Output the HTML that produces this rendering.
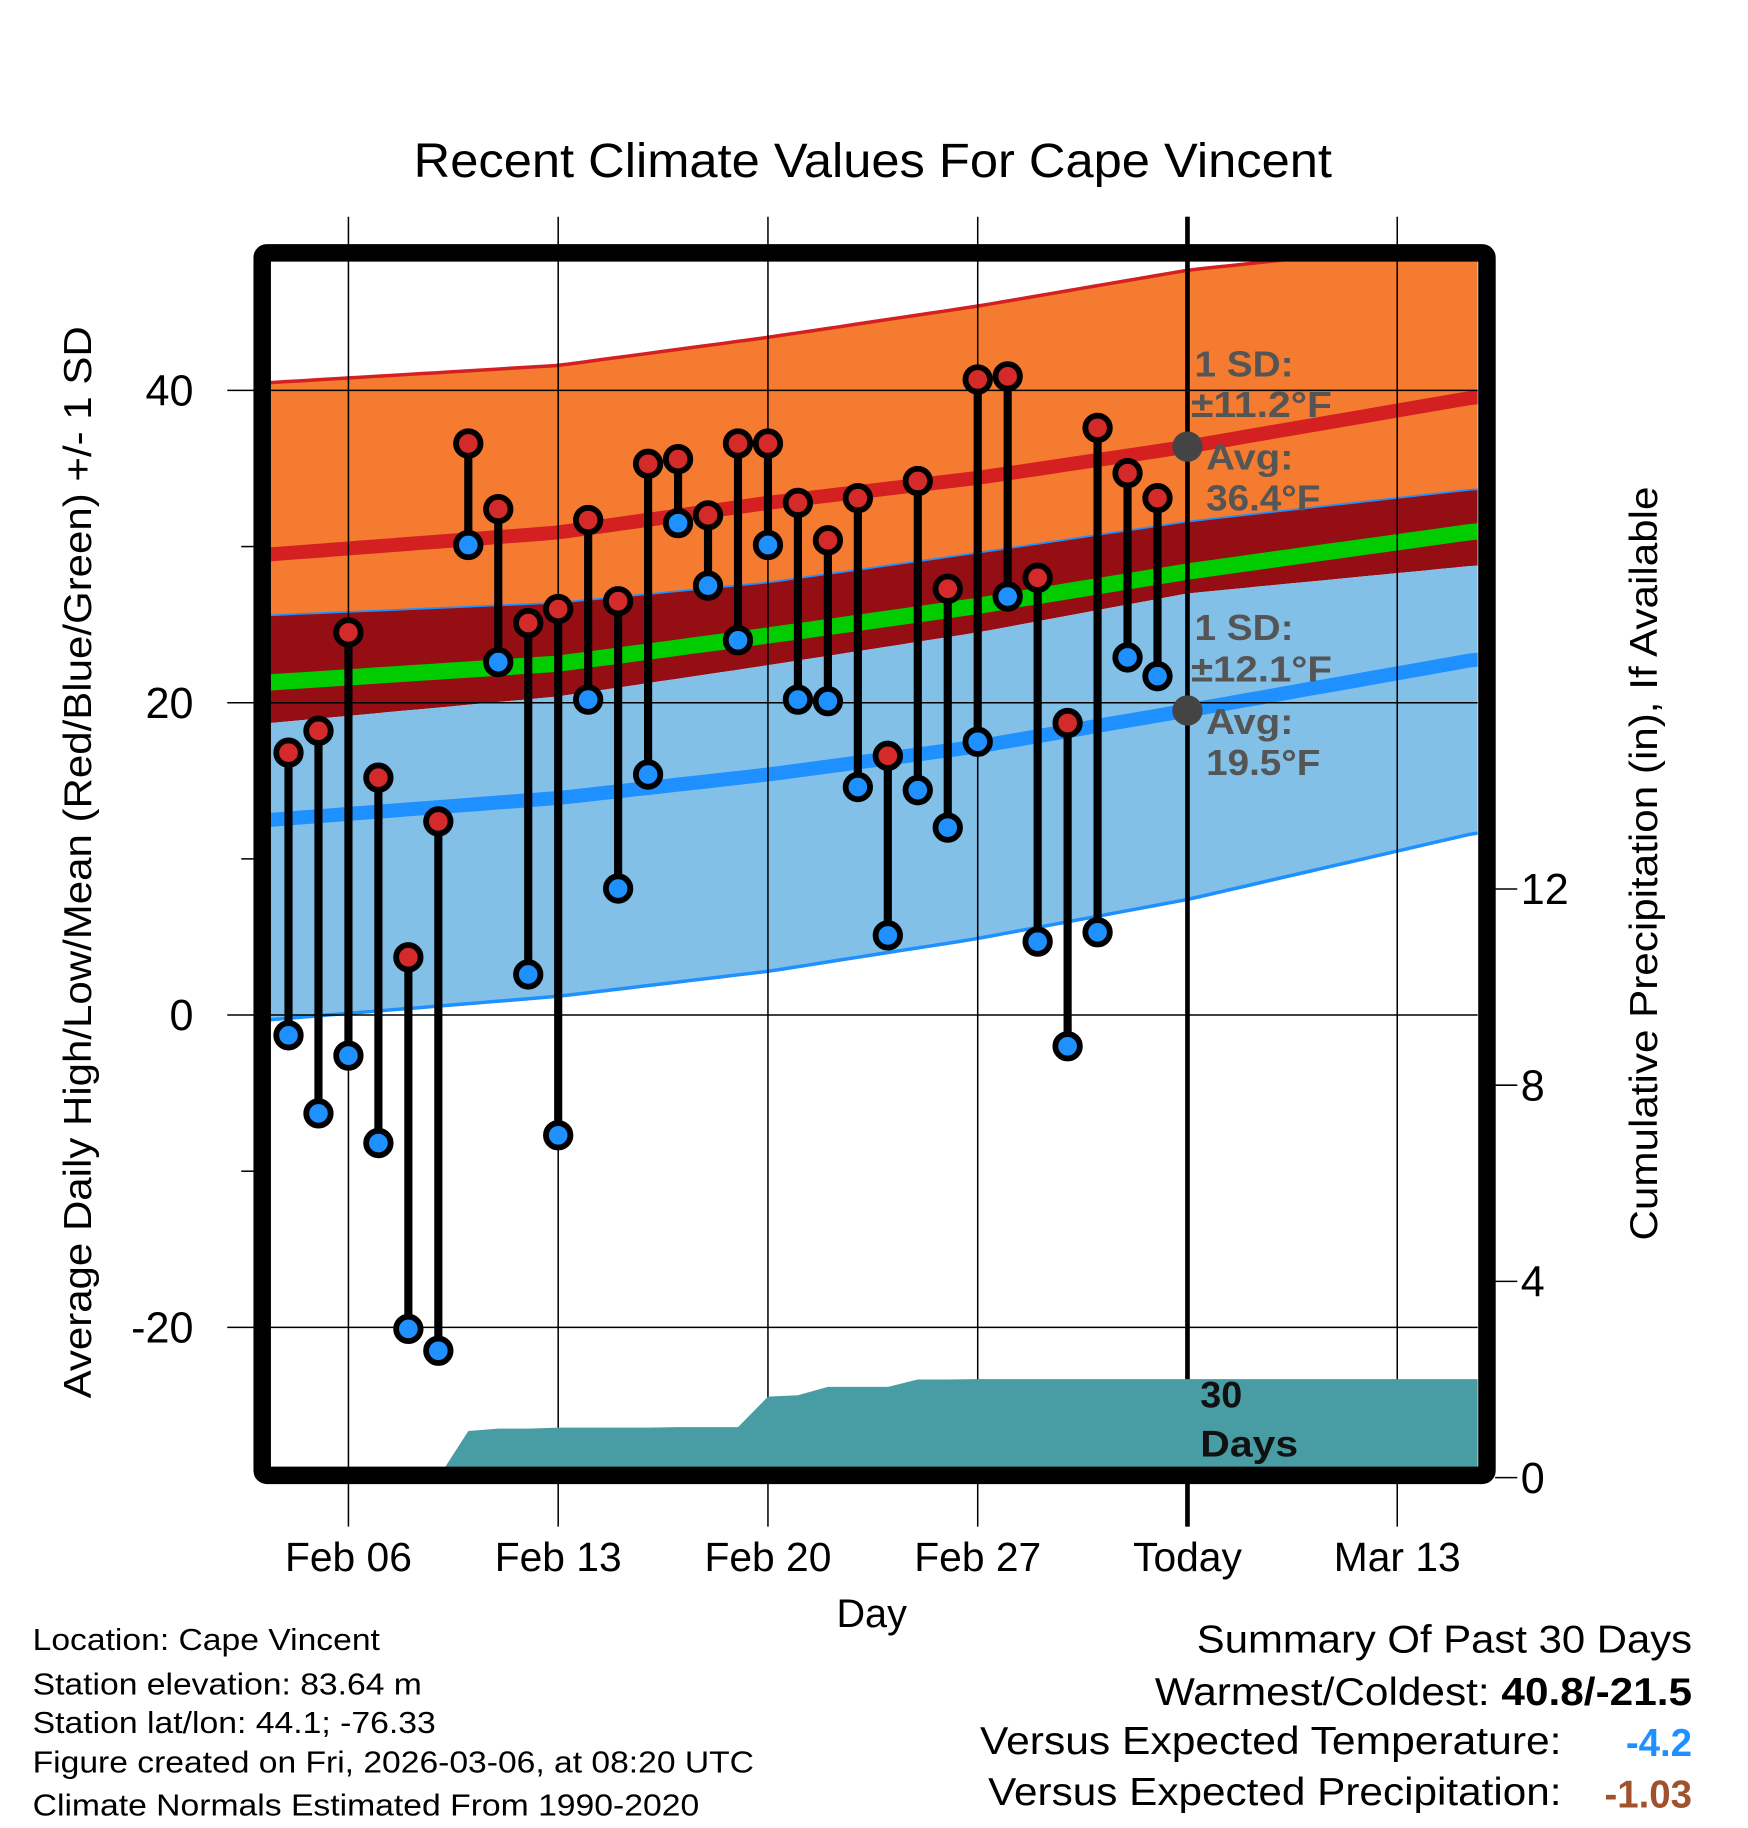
<!DOCTYPE html>
<html><head><meta charset="utf-8"><style>
html,body{margin:0;padding:0;background:#fff;}
svg{display:block;font-family:"Liberation Sans",Arial,sans-serif;}
</style></head><body>
<svg id="chart" width="1748" height="1828" viewBox="0 0 1500 1568.6" xmlns="http://www.w3.org/2000/svg">
<defs><clipPath id="plotclip"><rect x="232" y="224" width="1036" height="1035"/></clipPath></defs>
<rect x="0" y="0" width="1500" height="1570" fill="#fff"/>
<g id="bands" clip-path="url(#plotclip)"></g>
<g id="grid"></g>
<g id="precip" clip-path="url(#plotclip)"></g>
<g id="marks"></g>
<g id="annot"></g>
<rect x="225" y="217" width="1051" height="1049" fill="none" stroke="#000" stroke-width="15" rx="4"/>
<g id="axes"></g>
<text x="355" y="152" font-size="41" textLength="788" lengthAdjust="spacingAndGlyphs">Recent Climate Values For Cape Vincent</text>
<text transform="translate(78,740) rotate(-90)" font-size="33" text-anchor="middle" textLength="920" lengthAdjust="spacingAndGlyphs">Average Daily High/Low/Mean (Red/Blue/Green) +/- 1 SD</text>
<text transform="translate(1422,741) rotate(-90)" font-size="33" text-anchor="middle" textLength="647" lengthAdjust="spacingAndGlyphs">Cumulative Precipitation (in), If Available</text>
<text x="748" y="1396" font-size="34" text-anchor="middle">Day</text>
<g font-size="26">
<text x="28" y="1416" textLength="298" lengthAdjust="spacingAndGlyphs">Location: Cape Vincent</text>
<text x="28" y="1454" textLength="334" lengthAdjust="spacingAndGlyphs">Station elevation: 83.64 m</text>
<text x="28" y="1487" textLength="346" lengthAdjust="spacingAndGlyphs">Station lat/lon: 44.1; -76.33</text>
<text x="28" y="1521" textLength="619" lengthAdjust="spacingAndGlyphs">Figure created on Fri, 2026-03-06, at 08:20 UTC</text>
<text x="28" y="1558" textLength="572" lengthAdjust="spacingAndGlyphs">Climate Normals Estimated From 1990-2020</text>
</g>
<g font-size="33">
<text x="1027" y="1418" textLength="425" lengthAdjust="spacingAndGlyphs">Summary Of Past 30 Days</text>
<text x="991" y="1463" textLength="461" lengthAdjust="spacingAndGlyphs">Warmest/Coldest: <tspan font-weight="bold">40.8/-21.5</tspan></text>
<text x="841" y="1505" textLength="499" lengthAdjust="spacingAndGlyphs">Versus Expected Temperature:</text>
<text x="1452" y="1507" text-anchor="end" font-weight="bold" fill="#1e90ff">-4.2</text>
<text x="848" y="1549" textLength="492" lengthAdjust="spacingAndGlyphs">Versus Expected Precipitation:</text>
<text x="1452" y="1551" text-anchor="end" font-weight="bold" fill="#a0522d">-1.03</text>
</g>
</svg>
<script>
// ---- data ----
const highs=[16.8,18.2,24.5,15.2,3.7,12.4,36.6,32.4,25.1,26.0,31.7,26.5,35.3,35.6,32.0,36.6,36.6,32.8,30.4,33.1,16.6,34.2,27.3,40.7,40.9,28.0,18.7,37.6,34.7,33.1];
const lows=[-1.3,-6.3,-2.6,-8.2,-20.1,-21.5,30.1,22.6,2.6,-7.7,20.2,8.1,15.4,31.5,27.5,24.0,30.1,20.2,20.1,14.6,5.1,14.4,12.0,17.5,26.8,4.7,-2.0,5.3,22.9,21.7];
const precipCum=[0,0,0,0,0,0,0.95,1.0,1.0,1.02,1.02,1.02,1.02,1.03,1.03,1.03,1.65,1.68,1.85,1.85,1.85,2.0,2.0,2.01,2.01,2.01,2.01,2.01,2.01,2.01];
const firstDay=-2; // Feb 4 relative to Feb 6
const normDays=[-2.6,7,14,21,28,37.7];
const highUpper=[40.5,41.6,43.4,45.4,47.7,49.7];
const highAvg=[29.5,30.9,32.8,34.4,36.4,39.6];
const darkTop=[25.6,26.4,27.7,29.6,31.6,33.7];
const meanAvg=[21.3,22.5,24.3,26.2,28.4,31.0];
const darkBottom=[18.7,20.4,22.4,24.5,27.0,28.8];
const lowAvg=[12.5,13.9,15.4,17.2,19.5,22.8];
const lowLower=[-0.3,1.2,2.8,4.9,7.4,11.7];
const xTickLabels=["Feb 06","Feb 13","Feb 20","Feb 27","Today","Mar 13"];
const xTickDays=[0,7,14,21,28,35];
const yTicks=[40,20,0,-20];
const yMinorTicks=[30,10,-10];
const y2Ticks=[0,4,8,12];
// ---- axes ----
const X=d=>299+d*180/7;
const Y=v=>871-v*13.4;
const Y2=p=>1268-p*42.1;
const NS="http://www.w3.org/2000/svg";
function mk(tag,attrs,parent){const e=document.createElementNS(NS,tag);for(const k in attrs)e.setAttribute(k,attrs[k]);parent.appendChild(e);return e;}
function interp(arr,d){for(let i=0;i<normDays.length-1;i++){if(d<=normDays[i+1]){const t=(d-normDays[i])/(normDays[i+1]-normDays[i]);return arr[i]+t*(arr[i+1]-arr[i]);}}return arr[arr.length-1];}
function curvePts(arr){const pts=[];const d0=normDays[0]-0.5,d1=normDays[normDays.length-1]+0.5;for(let d=d0;d<d1;d+=0.5){pts.push([X(d),Y(interp(arr,Math.max(d,normDays[0])))]);}pts.push([X(d1),Y(interp(arr,d1))]);return pts;}
function bandPath(a,b){const p1=curvePts(a),p2=curvePts(b).reverse();return "M"+p1.concat(p2).map(p=>p[0].toFixed(1)+","+p[1].toFixed(1)).join("L")+"Z";}
function linePath(a){return "M"+curvePts(a).map(p=>p[0].toFixed(1)+","+p[1].toFixed(1)).join("L");}
const bands=document.getElementById('bands');
let e;
e=mk('path',{d:bandPath(highUpper,darkTop),fill:'#f47b2f'},bands);

e=mk('path',{d:bandPath(darkTop,darkBottom),fill:'#950e14'},bands);

e=mk('path',{d:bandPath(darkBottom,lowLower),fill:'#82c0e8'},bands);

e=mk('path',{d:linePath(highUpper),fill:'none',stroke:'#d42020','stroke-width':3},bands);

e=mk('path',{d:linePath(darkTop),fill:'none',stroke:'#1e90ff','stroke-width':1.5},bands);

e=mk('path',{d:linePath(highAvg),fill:'none',stroke:'#d42020','stroke-width':12},bands);

e=mk('path',{d:linePath(meanAvg),fill:'none',stroke:'#00cc00','stroke-width':14},bands);

e=mk('path',{d:linePath(lowAvg),fill:'none',stroke:'#1e90ff','stroke-width':12},bands);

e=mk('path',{d:linePath(lowLower),fill:'none',stroke:'#1e90ff','stroke-width':3},bands);

// grid
const grid=document.getElementById('grid');
xTickDays.forEach((d,i)=>{
  const g=mk('line',{x1:X(d),x2:X(d),y1:186,y2:1310,stroke:'#000','stroke-width':1.3},grid);
  
});
yTicks.forEach(v=>{
  const g=mk('line',{x1:195,x2:1268,y1:Y(v),y2:Y(v),stroke:'#000','stroke-width':1.3},grid);
  
});
// precip
const pg=document.getElementById('precip');
let pd="M"+X(firstDay+5)+","+Y2(0);
precipCum.forEach((p,i)=>{if(i>=5)pd+="L"+X(firstDay+i).toFixed(1)+","+Y2(p).toFixed(1);});
pd+="L1270,"+Y2(precipCum[precipCum.length-1]).toFixed(1)+"L1270,1270L"+X(firstDay+5)+",1270Z";
e=mk('path',{d:pd,fill:'#489ca4'},pg);

// today line
e=mk('line',{x1:X(28),x2:X(28),y1:186,y2:1310,stroke:'#000','stroke-width':4},grid);

// marks
const mg=document.getElementById('marks');
highs.forEach((h,i)=>{
  const x=X(firstDay+i);
  const s=mk('line',{x1:x,x2:x,y1:Y(h),y2:Y(lows[i]),stroke:'#000','stroke-width':7},mg);
  
});
highs.forEach((h,i)=>{
  const x=X(firstDay+i);
  const c1=mk('circle',{cx:x,cy:Y(h),r:10.5,fill:'#d42a2a',stroke:'#000','stroke-width':5},mg);
  
  const c2=mk('circle',{cx:x,cy:Y(lows[i]),r:10.5,fill:'#1e90ff',stroke:'#000','stroke-width':5},mg);
  
});
// annotations
const an=document.getElementById('annot');
const todayHigh=interp(highAvg,28),todayLow=interp(lowAvg,28);
e=mk('circle',{cx:X(28),cy:Y(todayHigh),r:13,fill:'#444'},an);

e=mk('circle',{cx:X(28),cy:Y(todayLow),r:13,fill:'#444'},an);

const annLines=[[1025,323,"1 SD:",85],[1022,358,"±11.2°F",121],[1035,403,"Avg:",75],[1035,438,"36.4°F",98],[1025,549,"1 SD:",85],[1022,585,"±12.1°F",121],[1035,630,"Avg:",75],[1035,665,"19.5°F",98]];
annLines.forEach(a=>{
  const t=mk('text',{x:a[0],y:a[1],'font-size':31,'font-weight':'bold',fill:'#555',textLength:a[3],lengthAdjust:'spacingAndGlyphs'},an);
  t.textContent=a[2];
  
});
[[1030,1208,"30",36],[1030,1250,"Days",84]].forEach(a=>{
  const t=mk('text',{x:a[0],y:a[1],'font-size':32,'font-weight':'bold',fill:'#111',textLength:a[3],lengthAdjust:'spacingAndGlyphs'},an);
  t.textContent=a[2];
  
});
// axes labels
const ax=document.getElementById('axes');
yTicks.forEach(v=>{
  const t=mk('text',{x:166,y:Y(v)+13,'font-size':37,'text-anchor':'end'},ax);
  t.textContent=String(v);
  
});
yMinorTicks.forEach(v=>{
  const l=mk('line',{x1:207,x2:218,y1:Y(v),y2:Y(v),stroke:'#000','stroke-width':1.3},ax);
  
});
y2Ticks.forEach(p=>{
  const l=mk('line',{x1:1283,x2:1302,y1:Y2(p),y2:Y2(p),stroke:'#000','stroke-width':1.3},ax);
  
  const t=mk('text',{x:1305,y:Y2(p)+13,'font-size':37},ax);
  t.textContent=String(p);
  
});
xTickDays.forEach((d,i)=>{
  const t=mk('text',{x:X(d),y:1348,'font-size':35,'text-anchor':'middle'},ax);
  t.textContent=xTickLabels[i];
  
});
</script>
</body></html>
